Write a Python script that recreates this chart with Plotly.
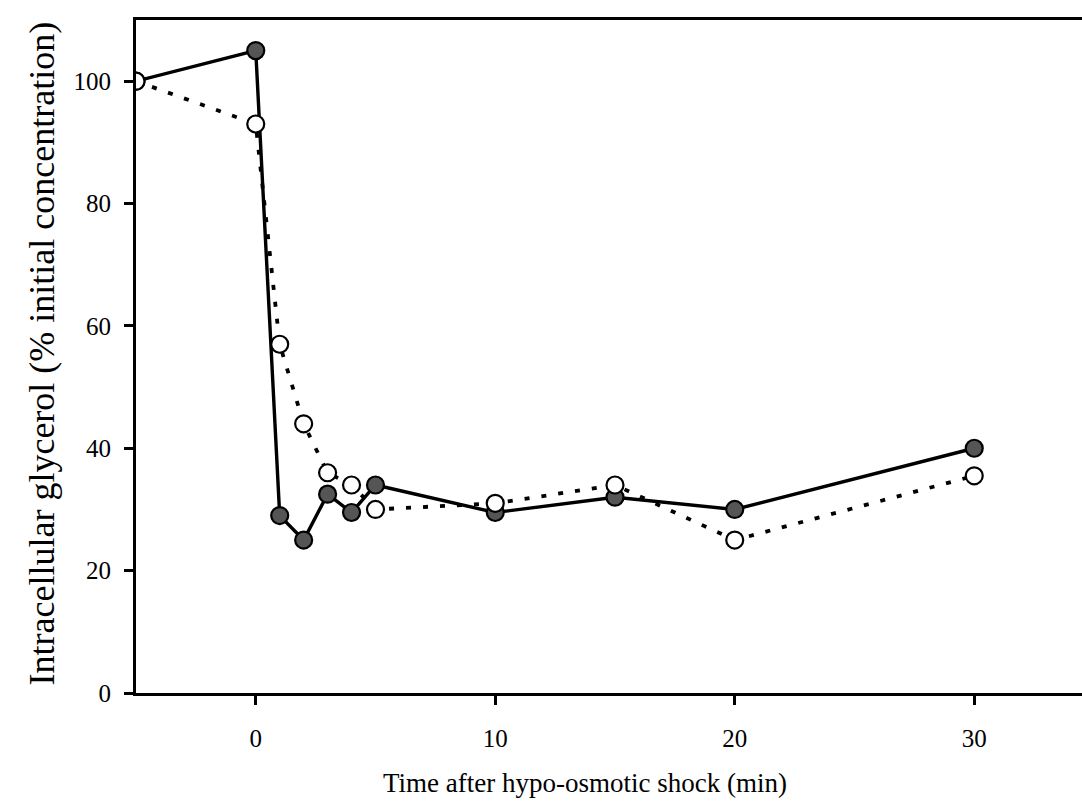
import plotly.graph_objects as go

# Time after hypo-osmotic shock (min)
time_min = [-5, 0, 1, 2, 3, 4, 5, 10, 15, 20, 30]

# Intracellular glycerol, % of initial concentration
glycerol_filled = [100, 105, 29, 25, 32.5, 29.5, 34, 29.5, 32, 30, 40]
glycerol_open = [100, 93, 57, 44, 36, 34, 30, 31, 34, 25, 35.5]

x_ticks = [0, 10, 20, 30]
y_ticks = [0, 20, 40, 60, 80, 100]

FONT = "Liberation Serif"

fig = go.Figure()

# connecting lines first, markers on top
fig.add_trace(go.Scatter(
    x=time_min, y=glycerol_filled, mode="lines",
    line=dict(color="black", width=3.4),
    hoverinfo="skip", showlegend=False,
))
fig.add_trace(go.Scatter(
    x=time_min, y=glycerol_open, mode="lines",
    line=dict(color="black", width=3.8, dash="5px,12px"),
    hoverinfo="skip", showlegend=False,
))
fig.add_trace(go.Scatter(
    x=time_min, y=glycerol_filled, mode="markers",
    marker=dict(symbol="circle", size=17, color="#555555",
                line=dict(color="black", width=2.2)),
    showlegend=False,
))
fig.add_trace(go.Scatter(
    x=time_min, y=glycerol_open, mode="markers",
    marker=dict(symbol="circle", size=17, color="white",
                line=dict(color="black", width=2.2)),
    showlegend=False,
))

fig.update_layout(
    width=1082, height=811,
    margin=dict(l=136, r=0, t=20, b=118),
    paper_bgcolor="white", plot_bgcolor="white",
    font=dict(family=FONT, color="black", size=25),
    xaxis=dict(
        range=[-5, 34.5], tickvals=x_ticks, ticktext=[str(v) for v in x_ticks],
        showgrid=False, zeroline=False,
        showline=True, linecolor="black", linewidth=3, mirror=True,
        ticks="outside", ticklen=9, tickwidth=2.5, tickcolor="black",
        tickfont=dict(family=FONT, size=25), ticklabelstandoff=12,
    ),
    yaxis=dict(
        range=[0, 110], tickvals=y_ticks, ticktext=[str(v) for v in y_ticks],
        showgrid=False, zeroline=False,
        showline=True, linecolor="black", linewidth=3, mirror=False,
        ticks="outside", ticklen=9, tickwidth=2.5, tickcolor="black",
        tickfont=dict(family=FONT, size=25), ticklabelstandoff=8,
    ),
    annotations=[
        dict(text="Time after hypo-osmotic shock (min)",
             xref="paper", yref="paper", x=0.475, y=-0.134,
             xanchor="center", yanchor="middle", showarrow=False,
             font=dict(family=FONT, size=27)),
        dict(text="Intracellular glycerol (% initial concentration)",
             xref="paper", yref="paper", x=-0.099, y=0.505,
             xanchor="center", yanchor="middle", showarrow=False,
             textangle=-90, font=dict(family=FONT, size=36)),
    ],
)

fig.write_html("out.html")
